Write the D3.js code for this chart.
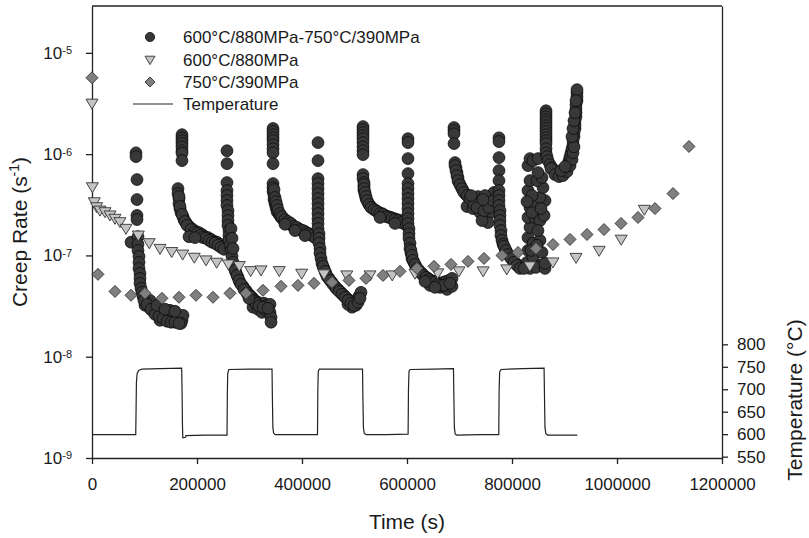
<!DOCTYPE html>
<html><head><meta charset="utf-8">
<script src="https://cdn.jsdelivr.net/npm/d3@7"></script>
<style>
body{margin:0;background:#fff}
svg{display:block}
text{font-family:"Liberation Sans",Arial,sans-serif;fill:#1a1a1a}
</style>
</head><body>
<svg id="c" width="809" height="538"></svg>
<script>
// ---------- DATA ----------
const xTicks = [0, 200000, 400000, 600000, 800000, 1000000, 1200000];
const yTicks = [1e-9, 1e-8, 1e-7, 1e-6, 1e-5];
const tTicks = [550, 600, 650, 700, 750, 800];
const legendLabels = ["600°C/880MPa-750°C/390MPa", "600°C/880MPa", "750°C/390MPa", "Temperature"];

// 600°C/880MPa-750°C/390MPa : [time s, creep rate 1/s], by temperature block
const cyc1 = [[74300,1.35e-7]];
const cyc2 = [[83800,1.03e-6],[83800,9.45e-7],[85700,5.61e-7],[85700,3.56e-7],[85700,2.48e-7],[85700,2.26e-7],[87600,1.53e-7],[87600,1.29e-7],[87600,1.12e-7],[89500,9.78e-8],[89500,8.53e-8],[89500,7.44e-8],[91400,6.64e-8],[91400,5.93e-8],[91400,5.29e-8],[93300,4.73e-8],[95200,4.32e-8],[97100,3.95e-8],[101000,3.68e-8],[102900,3.44e-8],[106700,3.22e-8],[110500,3.0e-8],[114300,2.87e-8],[118100,3.08e-8],[121900,2.74e-8],[125700,2.62e-8],[129500,2.81e-8],[133300,2.50e-8],[137100,2.68e-8],[141000,2.40e-8],[144800,2.56e-8],[148600,2.34e-8],[152400,2.50e-8],[156200,2.29e-8],[160000,2.45e-8],[163800,2.24e-8],[167600,2.40e-8],[171400,2.29e-8],[173300,2.56e-8],[169500,2.13e-8],[110500,3.6e-8],[148600,2.87e-8],[129500,2.29e-8],[101000,3.22e-8],
  [99000,3.6e-8],[104800,3.29e-8],[112400,2.94e-8],[120000,2.62e-8],[127600,2.50e-8],[135200,2.40e-8],[142900,2.24e-8],[150500,2.19e-8],[158100,2.19e-8],[165700,2.13e-8],[123800,3.22e-8],[139000,2.94e-8],[158100,2.81e-8]];
const cyc3 = [[171400,1.555e-6],[171400,1.45e-6],[171400,1.36e-6],[171400,1.27e-6],[171400,1.18e-6],[171400,1.08e-6],[171400,1.02e-6],[171400,8.63e-7],[163800,4.57e-7],[163800,4.08e-7],[165700,3.64e-7],[165700,3.25e-7],[167600,2.90e-7],[169500,2.65e-7],[173300,2.42e-7],[175200,2.26e-7],[179000,2.11e-7],[182900,1.98e-7],[186700,1.89e-7],[192400,1.80e-7],[198100,1.72e-7],[203800,1.68e-7],[209500,1.61e-7],[215200,1.53e-7],[221000,1.50e-7],[226700,1.44e-7],[232400,1.38e-7],[238100,1.35e-7],[243800,1.29e-7],[249500,1.23e-7],[255200,1.17e-7],
  [165700,3.81e-7],[167600,3.04e-7],[171400,2.54e-7],[177100,2.16e-7],[181000,1.98e-7],[188600,1.80e-7],[194300,1.68e-7],[200000,1.64e-7],[205700,1.57e-7],[211400,1.50e-7],[217100,1.48e-7],[222900,1.41e-7],[228600,1.35e-7],[234300,1.32e-7],[240000,1.26e-7],[245700,1.20e-7],[251400,1.15e-7],[184800,1.53e-7],[196200,1.50e-7]];
const cyc4 = [[257100,1.08e-6],[257100,8.05e-7],[257100,5.24e-7],[257100,4.37e-7],[257100,3.90e-7],[257100,3.48e-7],[257100,3.11e-7],[259000,2.77e-7],[259000,2.48e-7],[259000,2.21e-7],[259000,1.98e-7],[260900,1.76e-7],[260900,1.57e-7],[260900,1.41e-7],[262900,1.26e-7],[264800,1.12e-7],[266700,9.78e-8],[268600,8.53e-8],[270500,7.62e-8],[274300,6.79e-8],[278100,6.07e-8],[281900,5.42e-8],[287600,4.95e-8],[293300,4.52e-8],[299000,4.13e-8],[304800,3.86e-8],[310500,3.60e-8],[316200,3.44e-8],[321900,3.29e-8],[327600,3.37e-8],[333300,3.22e-8],[339000,3.29e-8],[306700,3.08e-8],[316200,2.94e-8],[323800,2.74e-8],[331400,2.87e-8],[339000,2.74e-8],[341000,2.45e-8],[341000,2.19e-8],[264800,1.84e-7],[266700,1.48e-7],[268600,1.17e-7],
  [272400,7.11e-8],[276200,6.35e-8],[280000,5.67e-8],[283800,5.18e-8],[289500,4.62e-8],[295200,4.22e-8],[300900,3.95e-8],[306700,3.60e-8],[312400,3.37e-8],[318100,3.15e-8],[325700,3.08e-8],[335200,3.0e-8],[299000,3.77e-8]];
const cyc5 = [[344800,1.79e-6],[344800,1.67e-6],[344800,1.555e-6],[344800,1.45e-6],[344800,1.36e-6],[344800,1.24e-6],[344800,1.13e-6],[344800,1.03e-6],[344800,8.05e-7],[344800,5.12e-7],[344800,4.67e-7],[344800,4.27e-7],[346700,3.90e-7],[346700,3.56e-7],[348600,3.25e-7],[350500,2.97e-7],[352400,2.71e-7],[356200,2.54e-7],[360000,2.37e-7],[365700,2.21e-7],[371400,2.11e-7],[377100,2.03e-7],[382900,1.94e-7],[388600,1.84e-7],[394300,1.80e-7],[400000,1.76e-7],[405700,1.72e-7],[411400,1.64e-7],[417100,1.61e-7],[422900,1.53e-7],[428600,1.47e-7],
  [346700,4.47e-7],[348600,3.73e-7],[350500,3.40e-7],[352400,3.11e-7],[354300,2.83e-7],[358100,2.59e-7],[361900,2.42e-7],[367600,2.26e-7],[373300,2.16e-7],[379000,2.07e-7],[384800,1.94e-7],[390500,1.89e-7],[396200,1.80e-7],[401900,1.76e-7],[407600,1.68e-7],[413300,1.64e-7],[419000,1.57e-7],[424800,1.50e-7],[367600,2.03e-7],[386700,1.76e-7],[405700,1.57e-7]];
const cyc6 = [[430500,1.30e-6],[430500,8.63e-7],[430500,5.73e-7],[430500,5.12e-7],[430500,4.57e-7],[430500,4.08e-7],[430500,3.64e-7],[430500,3.25e-7],[430500,2.90e-7],[430500,2.59e-7],[430500,2.31e-7],[430500,2.07e-7],[430500,1.84e-7],[432400,1.64e-7],[432400,1.48e-7],[432400,1.32e-7],[434300,1.17e-7],[434300,1.05e-7],[436200,9.34e-8],[438100,8.34e-8],[441900,7.44e-8],[445700,6.64e-8],[451400,5.93e-8],[457100,5.42e-8],[462900,4.95e-8],[468600,4.62e-8],[474300,4.32e-8],[480000,4.04e-8],[485700,3.77e-8],[491400,3.52e-8],[497100,3.37e-8],[502900,3.60e-8],[508600,3.95e-8],[512400,4.32e-8],[495200,3.08e-8],[502900,3.22e-8],[487600,3.29e-8],
  [440000,7.79e-8],[443800,6.95e-8],[447600,6.21e-8],[453300,5.67e-8],[459000,5.18e-8],[464800,4.73e-8],[470500,4.42e-8],[476200,4.13e-8],[481900,3.86e-8],[487600,3.60e-8],[493300,3.37e-8],[499000,3.22e-8],[506700,3.44e-8],[510500,3.77e-8]];
const cyc7 = [[516200,1.87e-6],[516200,1.75e-6],[516200,1.63e-6],[516200,1.52e-6],[516200,1.42e-6],[516200,1.30e-6],[516200,1.18e-6],[516200,1.08e-6],[516200,9.89e-7],[516200,6.28e-7],[516200,5.73e-7],[518100,5.24e-7],[518100,4.78e-7],[518100,4.37e-7],[520000,3.99e-7],[521900,3.64e-7],[525700,3.33e-7],[529500,3.11e-7],[535200,2.90e-7],[541000,2.77e-7],[546700,2.65e-7],[552400,2.59e-7],[558100,2.48e-7],[563800,2.42e-7],[569500,2.37e-7],[575200,2.31e-7],[581000,2.26e-7],[586700,2.21e-7],[592400,2.11e-7],[596200,2.03e-7],
  [518100,5.0e-7],[518100,4.57e-7],[520000,4.18e-7],[521900,3.81e-7],[523800,3.48e-7],[527600,3.18e-7],[531400,2.97e-7],[537100,2.83e-7],[542900,2.71e-7],[548600,2.59e-7],[554300,2.54e-7],[560000,2.42e-7],[565700,2.37e-7],[571400,2.31e-7],[577100,2.26e-7],[582900,2.21e-7],[588600,2.11e-7],[548600,2.37e-7],[577100,2.07e-7]];
const cyc8 = [[601900,1.42e-6],[601900,1.30e-6],[601900,9.03e-7],[601900,6.42e-7],[601900,5.12e-7],[601900,4.57e-7],[601900,4.08e-7],[601900,3.64e-7],[601900,3.25e-7],[601900,2.90e-7],[601900,2.59e-7],[601900,2.31e-7],[601900,2.07e-7],[603800,1.84e-7],[603800,1.64e-7],[603800,1.48e-7],[605700,1.32e-7],[605700,1.17e-7],[607600,1.05e-7],[609500,9.34e-8],[613300,8.53e-8],[617100,7.79e-8],[622900,7.11e-8],[628600,6.64e-8],[634300,6.21e-8],[640000,5.93e-8],[645700,5.67e-8],[651400,5.54e-8],[657100,5.42e-8],[662900,5.30e-8],[668600,5.42e-8],[674300,5.54e-8],[680000,5.67e-8],[685700,5.93e-8],[643800,5.06e-8],[662900,4.84e-8],[676200,4.62e-8],[685700,4.95e-8],
  [607600,1.12e-7],[609500,1.0e-7],[611400,8.93e-8],[615200,8.15e-8],[619000,7.44e-8],[624800,6.79e-8],[630500,6.35e-8],[636200,6.07e-8],[641900,5.80e-8],[647600,5.54e-8],[653300,5.42e-8],[659000,5.18e-8],[664800,5.06e-8],[670500,5.06e-8],[681900,5.30e-8],[653300,4.84e-8],[634300,5.54e-8]];
const cyc9 = [[689500,1.83e-6],[689500,1.71e-6],[689500,1.59e-6],[689500,1.27e-6],[691400,8.25e-7],[693300,7.36e-7],[695200,6.58e-7],[697100,5.87e-7],[699000,5.24e-7],[702900,4.78e-7],[706700,4.37e-7],[712400,3.99e-7],[718100,3.73e-7],[723800,3.56e-7],[729500,3.40e-7],[735200,3.33e-7],[741000,3.25e-7],[746700,3.18e-7],[752400,3.33e-7],[758100,3.56e-7],[761900,3.90e-7],[765700,4.18e-7],[714300,3.04e-7],[725700,2.90e-7],[739100,2.65e-7],[750500,2.42e-7],[760000,2.65e-7],[754300,2.11e-7],[742900,2.21e-7],[767600,3.11e-7],[735200,3.81e-7],[748600,3.90e-7],
  [691400,7.70e-7],[693300,6.88e-7],[695200,6.14e-7],[697100,5.48e-7],[700900,5.0e-7],[704800,4.57e-7],[708600,4.18e-7],[714300,3.90e-7],[720000,3.64e-7],[727600,3.18e-7],[733300,2.97e-7],[746700,2.77e-7],[756200,2.97e-7],[763800,3.48e-7],[721900,3.90e-7],[744800,3.56e-7]];
const cyc10 = [[775200,1.45e-6],[775200,1.33e-6],[775200,9.24e-7],[775200,6.88e-7],[775200,5.48e-7],[775200,4.37e-7],[775200,3.90e-7],[775200,3.48e-7],[775200,3.11e-7],[777100,2.77e-7],[777100,2.48e-7],[777100,2.21e-7],[777100,1.98e-7],[779000,1.76e-7],[779000,1.57e-7],[781000,1.41e-7],[782900,1.29e-7],[786700,1.17e-7],[790500,1.07e-7],[796200,9.78e-8],[801900,8.93e-8],[807600,8.34e-8],[813300,7.79e-8],[819000,7.62e-8],[824800,7.97e-8],[828600,8.53e-8],[830500,1.12e-7],[840000,9.56e-8],[853300,7.97e-8],[857100,1.07e-7],[830500,1.50e-7],[840000,1.32e-7],[853300,1.41e-7],[834300,1.89e-7],[830500,2.37e-7],[843800,2.37e-7],[853300,2.21e-7],[834300,2.97e-7],[843800,3.25e-7],[862900,3.48e-7],[853300,3.73e-7],[859000,4.67e-7],[830500,4.37e-7],[834300,5.48e-7],[847600,5.48e-7],[857100,5.87e-7],[830500,7.70e-7],[834300,9.03e-7],[840000,8.63e-7],[849500,9.03e-7],[834300,7.44e-8],[845700,7.62e-8],[862900,7.44e-8],[862900,8.34e-8],
  [784800,1.23e-7],[788600,1.12e-7],[792400,1.02e-7],[798100,9.34e-8],[803800,8.53e-8],[809500,7.97e-8],[815200,7.44e-8],[822900,7.44e-8],[838100,2.65e-7],[849500,1.76e-7],[861000,2.48e-7],[838100,3.90e-7],[849500,6.58e-7],[828600,3.40e-7],[855200,2.90e-7],[836200,1.12e-7],[847600,1.26e-7]];
const cyc11 = [[864800,2.68e-6],[864800,2.50e-6],[864800,2.34e-6],[864800,2.19e-6],[864800,2.05e-6],[864800,1.91e-6],[864800,1.79e-6],[864800,1.67e-6],[864800,1.555e-6],[864800,1.45e-6],[864800,1.36e-6],[864800,1.27e-6],[864800,1.13e-6],[864800,1.03e-6],[866700,9.45e-7],[868600,8.63e-7],[872400,7.88e-7],[876200,7.36e-7],[880000,6.88e-7],[883800,6.58e-7],[887600,6.42e-7],[891400,6.42e-7],[895200,6.58e-7],[899000,6.88e-7],[902900,7.36e-7],[906700,7.88e-7],[908600,8.63e-7],[910500,9.45e-7],[912400,1.03e-6],[914300,1.13e-6],[916200,1.24e-6],[916200,1.36e-6],[918100,1.49e-6],[918100,1.63e-6],[920000,1.79e-6],[920000,1.95e-6],[920000,2.14e-6],[921900,2.34e-6],[921900,2.56e-6],[921900,2.80e-6],[921900,3.08e-6],[923800,3.37e-6],[923800,3.69e-6],[923800,4.04e-6],[923800,4.33e-6],
  [874300,7.19e-7],[881900,6.28e-7],[889500,6.0e-7],[897100,6.14e-7],[904800,6.72e-7],[910500,7.70e-7],[914300,8.83e-7],[916200,1.03e-6],[918100,1.18e-6],[914300,1.49e-6],[916200,1.79e-6],[918100,2.14e-6],[920000,2.56e-6],[921900,3.37e-6],[893300,6.88e-7],[901000,7.53e-7]];

// 600°C/880MPa : [time s, creep rate]
const iso600 = [[0,3.15e-6],[700,4.71e-7],[4400,3.35e-7],[8900,2.99e-7],[15200,2.77e-7],[24800,2.67e-7],[34300,2.48e-7],[43800,2.30e-7],[53300,2.13e-7],[64700,1.83e-7],[88200,1.57e-7],[109000,1.32e-7],[129500,1.16e-7],[151800,1.08e-7],[172700,1.02e-7],[194800,9.49e-8],[217200,8.93e-8],[237500,8.47e-8],[259700,8.15e-8],[280600,7.85e-8],[302300,7.0e-8],[321900,7.11e-8],[356700,7.0e-8],[399400,6.6e-8],[441900,6.5e-8],[485300,6.35e-8],[529500,6.35e-8],[571800,6.35e-8],[615200,6.6e-8],[658500,6.65e-8],[699000,6.96e-8],[745000,6.96e-8],[790000,7.28e-8],[834000,7.80e-8],[878000,8.53e-8],[922000,9.45e-8],[966000,1.11e-7],[1008000,1.43e-7],[1052000,2.82e-7]];

// 750°C/390MPa : [time s, creep rate]
const iso750 = [[0,5.68e-6],[11400,6.5e-8],[43800,4.41e-8],[74300,4.04e-8],[101000,4.22e-8],[133300,3.77e-8],[165700,3.86e-8],[198100,4.04e-8],[230500,3.86e-8],[262900,4.22e-8],[293300,4.22e-8],[325700,4.52e-8],[360000,4.95e-8],[392400,5.06e-8],[422900,5.30e-8],[457100,5.42e-8],[489500,5.67e-8],[521900,5.93e-8],[554300,6.35e-8],[586700,6.96e-8],[619000,7.45e-8],[651400,7.80e-8],[683800,8.15e-8],[716200,8.73e-8],[746700,9.34e-8],[781000,1.0e-7],[811400,1.07e-7],[845700,1.17e-7],[878100,1.28e-7],[910500,1.44e-7],[942900,1.61e-7],[975200,1.80e-7],[1007600,2.07e-7],[1040000,2.37e-7],[1072400,2.90e-7],[1106700,4.08e-7],[1137100,1.19e-6]];

// Temperature : [time s, °C]
const temperature = [[0,599],[40000,599],[83300,599],[84000,660],[84600,715],[86000,735],[89000,742],[95000,745],[130000,746],[170800,747],[171500,700],[172300,620],[173000,592],[178000,593],[179000,597],[215000,598],[257200,598],[257800,690],[258500,735],[260500,744],[300000,745],[342900,745],[343600,680],[344500,615],[346000,602],[349000,599],[390000,599],[429500,599],[430200,700],[431000,740],[433000,745],[475000,745],[515300,745],[516000,680],[517000,615],[518500,602],[522000,599],[560000,599],[602100,600],[602800,700],[603800,740],[606000,744],[650000,745],[688500,746],[689200,690],[690200,615],[691800,600],[695000,598],[740000,599],[774800,599],[775500,700],[776500,738],[779000,744],[820000,746],[861100,747],[861800,690],[862800,615],[864500,601],[868000,598],[924400,598]];

const cyclic = [].concat(cyc1, cyc2, cyc3, cyc4, cyc5, cyc6, cyc7, cyc8, cyc9, cyc10, cyc11);

// ---------- CHART ----------
const svg = d3.select("#c");
const L = 92, R = 722, T = 6, B = 458;
const ink = "#222";

const x = d3.scaleLinear().domain([0, 1200000]).range([L, R]);
const y = d3.scaleLog().domain([1e-9, 2.9e-5]).range([B, T]);
const yT = d3.scaleLinear().domain([547, 1553]).range([B, T]);

function styleAxis(g) {
  g.attr("font-size", 17).attr("font-family", '"Liberation Sans",Arial,sans-serif');
  g.selectAll("path,line").attr("stroke", ink).attr("stroke-width", 1.3);
  g.selectAll("text").attr("fill", "#1a1a1a");
}
const gB = svg.append("g").attr("transform", `translate(0,${B})`)
  .call(d3.axisBottom(x).tickValues(xTicks).tickFormat(d3.format("d")).tickSize(6).tickSizeOuter(0).tickPadding(14));
styleAxis(gB);

const gL = svg.append("g").attr("transform", `translate(${L},0)`)
  .call(d3.axisLeft(y).tickValues(yTicks).tickSize(6).tickSizeOuter(0).tickPadding(14));
styleAxis(gL);
gL.selectAll(".tick text").each(function(d) {
  const t = d3.select(this);
  t.text(null);
  t.append("tspan").text("10");
  t.append("tspan").attr("dy", "-4.5").attr("font-size", "11px").text(Math.round(Math.log10(d)));
});

const gR = svg.append("g").attr("transform", `translate(${R},0)`)
  .call(d3.axisRight(yT).tickValues(tTicks).tickSize(6).tickSizeOuter(0).tickPadding(9));
styleAxis(gR);

svg.append("line").attr("x1", L).attr("x2", R).attr("y1", T).attr("y2", T)
  .attr("stroke", ink).attr("stroke-width", 1.3);

svg.append("text").attr("x", 407).attr("y", 529).attr("text-anchor", "middle")
  .attr("font-size", 21).text("Time (s)");
const yl = svg.append("text").attr("transform", "translate(27,232) rotate(-90)")
  .attr("text-anchor", "middle").attr("font-size", 21);
yl.append("tspan").text("Creep Rate (s");
yl.append("tspan").attr("dy", "-8").attr("font-size", 14).text("-1");
yl.append("tspan").attr("dy", "8").text(")");
svg.append("text").attr("transform", "translate(802,400) rotate(-90)")
  .attr("text-anchor", "middle").attr("font-size", 21).text("Temperature (°C)");

const triPath = "M-6,-4.5L6,-4.5L0,5.5Z";
const diaPath = "M0,-6L6,0L0,6L-6,0Z";

svg.append("g").selectAll("circle").data(cyclic).join("circle")
  .attr("cx", d => x(d[0])).attr("cy", d => y(d[1])).attr("r", 5.9)
  .attr("fill", "#383838").attr("stroke", "#0d0d0d").attr("stroke-width", 0.8);

svg.append("g").selectAll("path").data(iso600).join("path")
  .attr("transform", d => `translate(${x(d[0])},${y(d[1])})`).attr("d", triPath)
  .attr("fill", "#c4c4c4").attr("stroke", "#333").attr("stroke-width", 0.9);

svg.append("g").selectAll("path").data(iso750).join("path")
  .attr("transform", d => `translate(${x(d[0])},${y(d[1])})`).attr("d", diaPath)
  .attr("fill", "#7f7f7f").attr("stroke", "#333").attr("stroke-width", 0.9);

svg.append("path").datum(temperature)
  .attr("d", d3.line().x(d => x(d[0])).y(d => yT(d[1])))
  .attr("fill", "none").attr("stroke", ink).attr("stroke-width", 1.2);

const lg = svg.append("g");
const rows = [43, 66, 88, 110];
lg.append("circle").attr("cx", 150).attr("cy", 37).attr("r", 4.6)
  .attr("fill", "#383838").attr("stroke", "#0d0d0d").attr("stroke-width", 0.8);
lg.append("path").attr("transform", "translate(150,60)").attr("d", "M-5,-3.8L5,-3.8L0,4.6Z")
  .attr("fill", "#c4c4c4").attr("stroke", "#333").attr("stroke-width", 0.9);
lg.append("path").attr("transform", "translate(150,82)").attr("d", "M0,-5L5,0L0,5L-5,0Z")
  .attr("fill", "#7f7f7f").attr("stroke", "#333").attr("stroke-width", 0.9);
lg.append("line").attr("x1", 133).attr("x2", 173).attr("y1", 104).attr("y2", 104)
  .attr("stroke", ink).attr("stroke-width", 1.2);
legendLabels.forEach((s, i) => {
  lg.append("text").attr("x", 183).attr("y", rows[i]).attr("font-size", 17).text(s);
});
</script>
</body></html>
